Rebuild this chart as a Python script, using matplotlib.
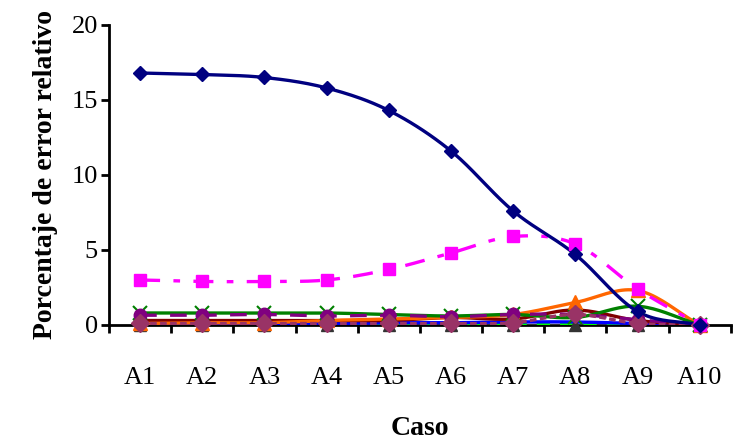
import matplotlib

matplotlib.use("Agg")
import matplotlib.pyplot as plt
import numpy as np

plt.rcParams["font.family"] = ["Liberation Serif", "DejaVu Serif"]

casos = ["A1", "A2", "A3", "A4", "A5", "A6", "A7", "A8", "A9", "A10"]

s_navy = [16.8, 16.7, 16.5, 15.8, 14.3, 11.6, 7.6, 4.7, 0.9, 0.0]
s_magenta = [3.0, 2.9, 2.9, 3.0, 3.7, 4.8, 5.9, 5.4, 2.4, 0.0]
s_green = [0.8, 0.8, 0.8, 0.8, 0.7, 0.6, 0.7, 0.5, 1.25, 0.0]
s_orange = [0.1, 0.15, 0.15, 0.3, 0.4, 0.5, 0.7, 1.5, 2.3, 0.0]
s_purple = [0.65, 0.65, 0.7, 0.6, 0.65, 0.55, 0.7, 0.7, 0.35, 0.0]
s_darkred = [0.3, 0.3, 0.3, 0.3, 0.3, 0.5, 0.4, 1.0, 0.3, 0.0]
s_blue = [0.1, 0.1, 0.1, 0.1, 0.15, 0.15, 0.2, 0.2, 0.1, 0.0]
s_lime = [0.05, 0.05, 0.05, 0.05, 0.05, 0.05, 0.1, 0.1, 0.05, 0.0]
s_gray = [0.0, 0.0, 0.0, 0.0, 0.0, 0.0, 0.0, 0.0, 0.0, 0.0]
s_mauve = [0.1, 0.1, 0.1, 0.1, 0.1, 0.1, 0.15, 0.7, 0.1, 0.0]


def smooth(y, n=20):
    # Catmull-Rom curve through the points (Excel "smoothed line")
    y = np.asarray(y, float)
    p = np.concatenate([[2 * y[0] - y[1]], y, [2 * y[-1] - y[-2]]])
    xs, ys = [], []
    t = np.linspace(0, 1, n, endpoint=False)
    for i in range(len(y) - 1):
        p0, p1, p2, p3 = p[i], p[i + 1], p[i + 2], p[i + 3]
        yy = 0.5 * ((2 * p1) + (-p0 + p2) * t + (2 * p0 - 5 * p1 + 4 * p2 - p3) * t**2
                    + (-p0 + 3 * p1 - 3 * p2 + p3) * t**3)
        xs.append(i + t)
        ys.append(yy)
    xs.append([len(y) - 1])
    ys.append([y[-1]])
    return np.concatenate(xs), np.concatenate(ys)


series = [
    # values, color, marker, markersize, linestyle
    (s_gray, "#333333", "^", 8, "-"),
    (s_lime, "#00FF00", None, 0, (0, (4, 3))),
    (s_blue, "#0000FF", None, 0, "-"),
    (s_darkred, "#800000", "o", 9, "-"),
    (s_orange, "#FF6600", "^", 10, "-"),
    (s_green, "#008000", "x", 10, "-"),
    (s_purple, "#800080", "o", 9, (0, (5, 4))),
    (s_mauve, "#993366", "D", 9, (0, (2, 1))),
    (s_magenta, "#FF00FF", "s", 9, (0, (6, 4, 2, 4))),
    (s_navy, "#000080", "D", 7, "-"),
]

fig = plt.figure(figsize=(7.33, 4.4), dpi=100)
ax = fig.add_axes([0.1487, 0.2614, 0.8483, 0.6818])

x = np.arange(len(casos))
for vals, col, mk, ms, ls in series:
    sx, sy = smooth(vals)
    ax.plot(sx, sy, color=col, lw=2.4, ls=ls, zorder=2)
    if mk:
        ax.plot(x, vals, ls="none", marker=mk, ms=ms, color=col,
                mec=col, mew=1.5 if mk == "x" else 1, zorder=3, clip_on=False)

ax.set_xlim(-0.5, 9.5)
ax.set_ylim(0, 20)
ax.set_yticks([0, 5, 10, 15, 20])
ax.set_xticks(x)
ax.set_xticklabels(casos)
ax.set_xticks(np.arange(-0.5, 10, 1), minor=True)
ax.tick_params(axis="x", which="major", length=0, pad=30, labelsize=19)
ax.tick_params(axis="x", which="minor", length=6, width=2, direction="out")
ax.tick_params(axis="y", length=6, width=2, direction="out", labelsize=19, pad=2)

for side in ["top", "right"]:
    ax.spines[side].set_visible(False)
ax.spines["left"].set_linewidth(2)
ax.spines["bottom"].set_linewidth(2)
ax.spines["bottom"].set_zorder(1)

ax.set_xlabel("Caso", fontsize=20, fontweight="bold", labelpad=20)
ax.set_ylabel("Porcentaje de error relativo", fontsize=20, fontweight="bold", labelpad=10)

fig.savefig("out.png", dpi=100)
